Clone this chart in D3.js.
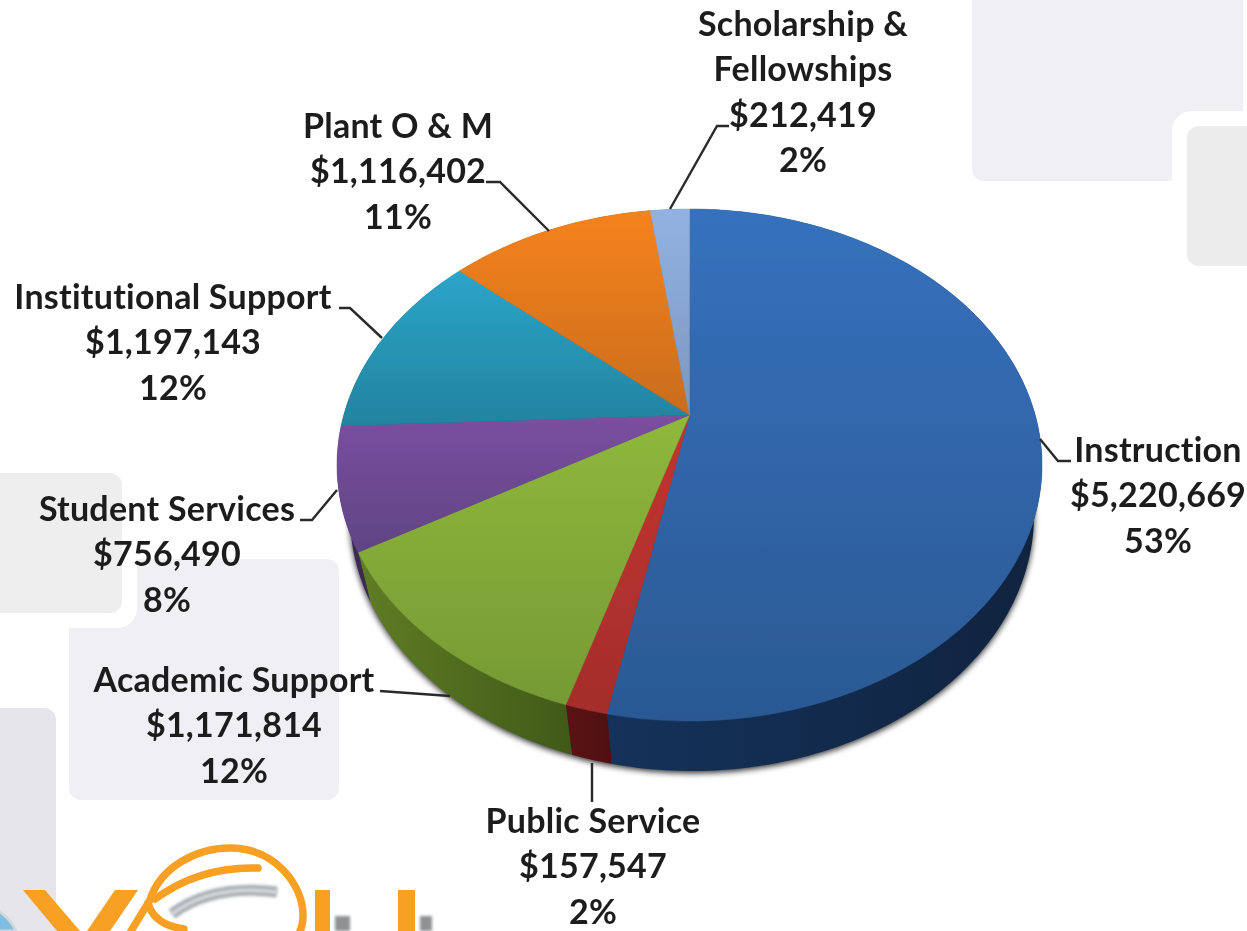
<!DOCTYPE html>
<html>
<head>
<meta charset="utf-8">
<script src="https://cdn.jsdelivr.net/npm/d3@7"></script>
<style>
  html, body { margin: 0; padding: 0; background: #fff; overflow: hidden; }
  svg { display: block; }
  text { font-family: Lato, "Noto Sans", sans-serif; font-weight: 700; fill: #1c1c1c; font-variant-ligatures: none; }
</style>
</head>
<body>
<div id="chart"></div>
<script>
// clockwise from 12 o'clock
const categories = ['Instruction', 'Public Service', 'Academic Support', 'Student Services',
  'Institutional Support', 'Plant O & M', 'Scholarship &\nFellowships']
const amounts = [5220669, 157547, 1171814, 756490, 1197143, 1116402, 212419]

const faceTop = ['#3671bd', '#c3332f', '#8fb83b', '#7b4fa0', '#2ba5c8', '#f6831f', '#92b2e2']
const faceBottom = ['#2b5993', '#a42e2c', '#769a35', '#5f4484', '#22839f', '#c96c1f', '#7b97bd']
const wallLeft = ['#14325a', '#5c1214', '#5f7d24', '#3c2a55', '#14505f', '#7c4213', '#4d6078']
const wallRight = ['#10233f', '#4f1012', '#3f5a18', '#3c2a55', '#14505f', '#7c4213', '#4d6078']

// label centre x, first baseline y, in category order
const labelX = [1158, 593, 234, 167, 173, 398, 803]
const labelY = [462, 833, 692, 521, 309, 138, 36]
const lineGap = 45.3

const leaders = [
  [[1040, 439], [1058, 461], [1071, 461]],
  [[592, 763], [592, 802]],
  [[380, 691], [450, 696]],
  [[300, 520], [312, 520], [337, 490]],
  [[339, 308], [350, 308], [382, 338]],
  [[486, 182], [500, 182], [549, 231]],
  [[729, 126], [717, 126], [670, 209]]
]

const w = 1247
const h = 931

const svg = d3.select('#chart').append('svg')
  .attr('width', w)
  .attr('height', h)
  .attr('viewBox', [0, 0, w, h])

const defs = svg.append('defs')
defs.append('filter').attr('id', 'blur').attr('x', '-10%').attr('y', '-10%').attr('width', '120%').attr('height', '120%')
  .append('feGaussianBlur').attr('stdDeviation', 3)
defs.append('filter').attr('id', 'soft').attr('x', '-20%').attr('y', '-20%').attr('width', '140%').attr('height', '140%')
  .append('feGaussianBlur').attr('stdDeviation', 1.6)
defs.append('filter').attr('id', 'textSoft').attr('x', '-5%').attr('y', '-5%').attr('width', '110%').attr('height', '110%')
  .append('feGaussianBlur').attr('stdDeviation', 0.55)
defs.append('filter').attr('id', 'edgeSoft').attr('x', '-5%').attr('y', '-5%').attr('width', '110%').attr('height', '110%')
  .append('feGaussianBlur').attr('stdDeviation', 0.7)

// slide background tiles
const tiles = svg.append('g')
function tile (x, y, width, height, fill, halo) {
  if (halo) {
    tiles.append('rect').attr('x', x - 15).attr('y', y - 15).attr('width', width + 30).attr('height', height + 30)
      .attr('rx', 20).attr('fill', '#fff')
  }
  tiles.append('rect').attr('x', x).attr('y', y).attr('width', width).attr('height', height)
    .attr('rx', 12).attr('fill', fill)
}
tile(972, -30, 271, 211, '#f0f0f4')
tile(1187, 126, 90, 140, '#ececed', true)
tile(69, 559, 270, 241, '#f0f0f4')
tile(-30, 473, 152, 140, '#eeeeef', true)
tile(-30, 708, 86, 260, '#e6e6ea')

// logo, cut by the bottom of the slide
const logo = svg.append('g')
logo.append('path').attr('d', 'M-30,905 A44,44 0 0 1 16,931 L-30,931 Z').attr('fill', '#7fbde2')
  .attr('stroke', '#d4d8da').attr('stroke-width', 3)
logo.append('g').attr('filter', 'url(#soft)').selectAll('path')
  .data(['M172,914 Q212,884 277,892', 'M335,931 V916 H350 V931 Z', 'M420,931 V916 H432 V931 Z'])
  .join('path').attr('d', d => d).attr('fill', (d, i) => i ? '#8f9193' : 'none')
  .attr('stroke', (d, i) => i ? 'none' : '#a9adb1').attr('stroke-width', 11)
logo.append('path').attr('d', 'M172,914 Q212,884 277,892').attr('fill', 'none')
  .attr('stroke', '#dfe2e4').attr('stroke-width', 3).attr('filter', 'url(#soft)')
logo.append('path').attr('d', 'M23,890 H45 L80,931 H57 Z M115,890 H138 L110,931 H87 Z M315,890 H330 V931 H315 Z M398,890 H415 V931 H398 Z')
  .attr('fill', '#f7a024')
logo.selectAll('.swoosh')
  .data([
    'M131,931 L150,900 C160,868 195,848 230,848 C275,848 303,885 303,915 C303,922 302,927 300,931',
    'M155,899 Q200,866 258,868',
    'M148,903 Q154,925 184,929'
  ])
  .join('path').attr('class', 'swoosh').attr('d', d => d).attr('fill', 'none')
  .attr('stroke', '#f7a024').attr('stroke-width', 7.5).attr('stroke-linecap', 'round')

// 3D pie: unit circle pushed through a perspective map, so the wedge tip sits above the ellipse centre
const tipLift = 0.195
const xTop = d3.scaleLinear().domain([-1, 1]).range([337, 1042])
const yTop = d3.scaleLinear().domain([-1, 1]).range([209, 721])
const xBase = d3.scaleLinear().domain([-1, 1]).range([350, 1034])
const yBase = d3.scaleLinear().domain([-1, 1]).range([259, 771])

function project (angle) {
  const px = Math.sin(angle)
  const py = -Math.cos(angle)
  const k = 1 - tipLift * py
  return [px * Math.sqrt(1 - tipLift * tipLift) / k, (py - tipLift) / k]
}

const pie = d3.pie().sort(null).value(d => d)
const arcs = pie(amounts)
const total = d3.sum(amounts)
const lineGen = d3.line()

function rimAngles (d) {
  const n = Math.max(4, Math.ceil((d.endAngle - d.startAngle) * 60))
  return d3.range(n + 1).map(i => d.startAngle + (d.endAngle - d.startAngle) * i / n)
}

function facePath (d) {
  const rim = rimAngles(d).map(a => project(a)).map(p => [xTop(p[0]), yTop(p[1])])
  return lineGen([[xTop(0), yTop(-tipLift)], ...rim]) + 'Z'
}

function wallPath (d) {
  const pts = rimAngles(d).map(a => project(a))
  const upper = pts.map(p => [xTop(p[0]), yTop(p[1])])
  const lower = pts.map(p => [xBase(p[0]), yBase(p[1])]).reverse()
  return lineGen([...upper, ...lower]) + 'Z'
}

const pieG = svg.append('g')

// drop shadow under the pie
pieG.append('path')
  .attr('d', lineGen(d3.range(0, 361, 3).map(a => {
    const p = project(a * Math.PI / 180)
    return [xBase(p[0]), yBase(p[1]) + 2]
  })) + 'Z')
  .attr('fill', '#000')
  .attr('opacity', 0.85)
  .attr('filter', 'url(#blur)')

arcs.forEach((d, i) => {
  const g = defs.append('linearGradient').attr('id', 'face' + i).attr('x1', 0).attr('y1', 0).attr('x2', 0).attr('y2', 1)
  g.append('stop').attr('offset', 0).attr('stop-color', faceTop[i])
  g.append('stop').attr('offset', 1).attr('stop-color', faceBottom[i])
  const s = defs.append('linearGradient').attr('id', 'wall' + i).attr('x1', 0).attr('y1', 0).attr('x2', 1).attr('y2', 0)
  s.append('stop').attr('offset', 0).attr('stop-color', wallLeft[i])
  s.append('stop').attr('offset', 1).attr('stop-color', wallRight[i])
})

pieG.append('g').selectAll('path')
  .data(arcs)
  .join('path')
  .attr('d', wallPath)
  .attr('fill', (d, i) => `url(#wall${i})`)

pieG.append('g').attr('filter', 'url(#edgeSoft)').selectAll('path')
  .data(arcs)
  .join('path')
  .attr('d', facePath)
  .attr('fill', (d, i) => `url(#face${i})`)
  .attr('stroke', (d, i) => `url(#face${i})`)
  .attr('stroke-width', 0.5)

// leader lines
svg.append('g').selectAll('path')
  .data(leaders)
  .join('path')
  .attr('d', d => lineGen(d))
  .attr('fill', 'none')
  .attr('stroke', '#2a2a2a')
  .attr('stroke-width', 2.4)

// labels
const money = d3.format('$,')
const pct = d3.format('.0%')
const labels = svg.append('g').attr('filter', 'url(#textSoft)').selectAll('text')
  .data(categories)
  .join('text')
  .attr('text-anchor', 'middle')
  .attr('font-size', 34)
  .attr('letter-spacing', 0.25)

labels.each(function (name, i) {
  const lines = name.split('\n').concat([money(amounts[i]), pct(amounts[i] / total)])
  d3.select(this).selectAll('tspan')
    .data(lines)
    .join('tspan')
    .attr('x', labelX[i])
    .attr('y', (d, j) => labelY[i] + j * lineGap)
    .text(d => d)
})
</script>
</body>
</html>
